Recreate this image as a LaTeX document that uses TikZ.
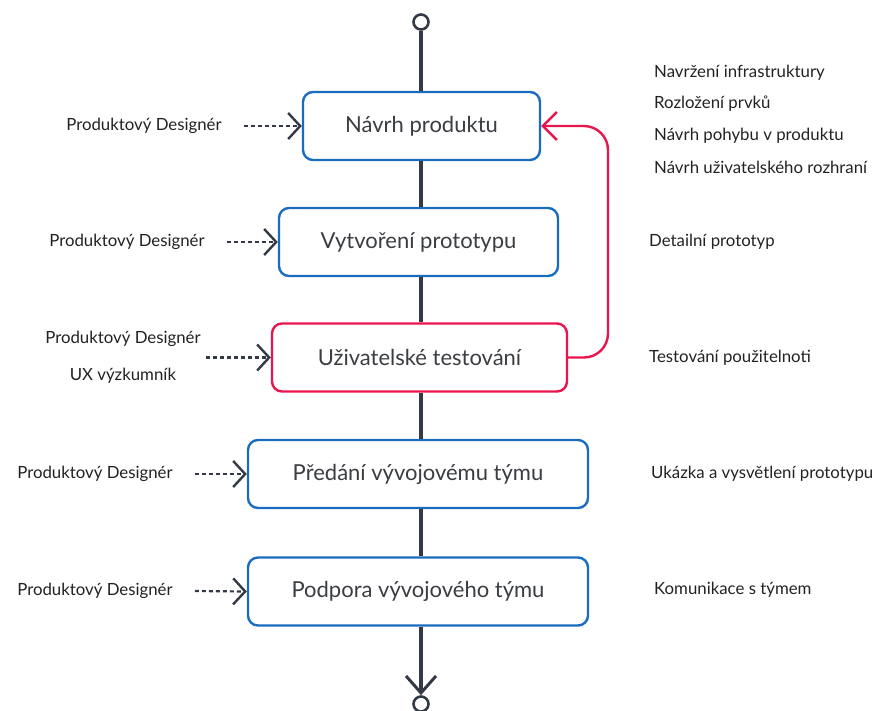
\documentclass[tikz,border=0pt]{standalone}
\usepackage{fontspec}
\setmainfont{Lato}
\usetikzlibrary{arrows.meta}
\definecolor{flowblue}{HTML}{1A6DBE}
\definecolor{flowred}{HTML}{E8164E}
\definecolor{spine}{HTML}{343A45}
\definecolor{txt}{HTML}{222222}
\definecolor{boxtxt}{HTML}{3A3D42}
\begin{document}
\begin{tikzpicture}[x=1pt,y=-1pt,
  stage/.style={draw=flowblue,line width=2.4pt,rounded corners=10pt,fill=white,
    minimum height=68pt,text=boxtxt,font=\fontsize{22}{26}\selectfont,inner sep=0pt},
  teststage/.style={stage,draw=flowred},
  role/.style={text=txt,font=\fontsize{16.8}{20}\selectfont,inner sep=0pt,align=center},
  note/.style={text=txt,font=\fontsize{16.8}{20}\selectfont,inner sep=0pt,anchor=west},
  spineline/.style={draw=spine,line width=3.4pt},
  endpoint/.style={circle,draw=spine,line width=2.6pt,minimum size=15pt,inner sep=0pt,fill=white},
  handoff/.style={draw=spine,line width=2.2pt,dash pattern=on 4pt off 3pt,
    -{Straight Barb[length=12pt,width=26pt,line width=2.4pt]}},
  loopback/.style={draw=flowred,line width=2.4pt,rounded corners=24pt,
    -{Straight Barb[length=14pt,width=28pt,line width=2.4pt]}}
]
\useasboundingbox (0,0) rectangle (884,710);

% process stages
\node[stage,minimum width=237pt] (b1) at (421.5,126) {Návrh produktu};
\node[stage,minimum width=279pt] (b2) at (418.5,242) {Vytvoření prototypu};
\node[teststage,minimum width=295pt] (b3) at (419.5,357.5) {Uživatelské testování};
\node[stage,minimum width=340pt] (b4) at (418,474) {Předání vývojovému týmu};
\node[stage,minimum width=340pt] (b5) at (418,591.5) {Podpora vývojového týmu};

% start and end markers
\node[endpoint] (start) at (421,22) {};
\node[endpoint] (finish) at (421,704) {};

% central spine
\draw[spineline] (start) -- (start |- b1.north);
\draw[spineline] (start |- b1.south) -- (start |- b2.north);
\draw[spineline] (start |- b2.south) -- (start |- b3.north);
\draw[spineline] (start |- b3.south) -- (start |- b4.north);
\draw[spineline] (start |- b4.south) -- (start |- b5.north);
\draw[spineline,-{Straight Barb[length=17pt,width=30pt,line width=3pt]}] (start |- b5.south) -- (finish);

% feedback loop from testing back to design
\coordinate (loop) at (608,126);
\draw[loopback] (b3.east) -| (loop) -- (b1.east);

% roles on the left
\node[role] (r1) at (144,126) {Produktový Designér};
\node[role] (r2) at (127,242) {Produktový Designér};
\node[role,align=center] (r3) at (123,357.5) {Produktový Designér\\[17pt]UX výzkumník};
\node[role] (r4) at (95,474) {Produktový Designér};
\node[role] (r5) at (95,591) {Produktový Designér};

\draw[handoff] ([xshift=22pt]r1.east) -- (b1.west);
\draw[handoff] ([xshift=22pt]r2.east) -- (b2.west);
\draw[handoff] ([xshift=5pt]r3.east) -- (b3.west);
\draw[handoff] ([xshift=22pt]r4.east) -- (b4.west);
\draw[handoff] ([xshift=22pt]r5.east) -- (b5.west);

% outputs on the right
\node[note] (n1a) at (654,73) {Navržení infrastruktury};
\node[note] (n1b) at (654,104) {Rozložení prvků};
\node[note] (n1c) at (654,136) {Návrh pohybu v produktu};
\node[note] (n1d) at (654,167) {Návrh uživatelského rozhraní};
\node[note] (n2) at (649,242) {Detailní prototyp};
\node[note] (n3) at (649,358) {Testování použitelnoti};
\node[note] (n4) at (651,474) {Ukázka a vysvětlení prototypu};
\node[note] (n5) at (654,590) {Komunikace s týmem};
\end{tikzpicture}
\end{document}
